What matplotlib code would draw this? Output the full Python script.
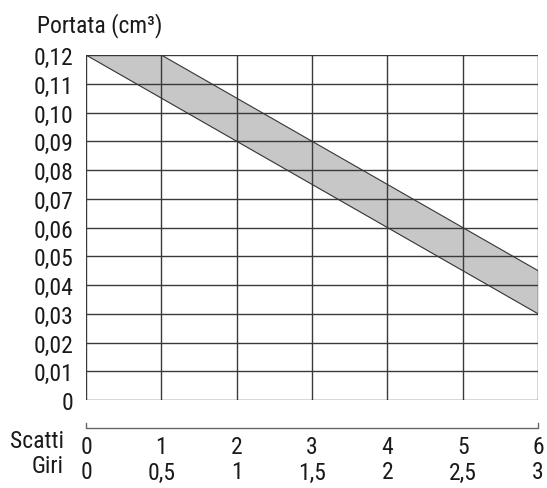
import matplotlib
matplotlib.use("Agg")
import matplotlib.pyplot as plt
from matplotlib.transforms import blended_transform_factory

plt.rcParams['font.family'] = ['Roboto Condensed', 'Liberation Sans', 'DejaVu Sans']

# Data
scatti = [0, 1, 2, 3, 4, 5, 6]
giri_labels = ["0", "0,5", "1", "1,5", "2", "2,5", "3"]
portata_max = [0.12, 0.12, 0.105, 0.09, 0.075, 0.06, 0.045]
portata_min = [0.12, 0.105, 0.09, 0.075, 0.06, 0.045, 0.03]
y_ticks = [0.0, 0.01, 0.02, 0.03, 0.04, 0.05, 0.06, 0.07, 0.08, 0.09, 0.10, 0.11, 0.12]
y_labels = ["0"] + [f"{v:.2f}".replace(".", ",") for v in y_ticks[1:]]

FS = 17
TXT = "#1a1a1a"

W, H = 547, 489
fig = plt.figure(figsize=(W / 100, H / 100), dpi=100)
ax = fig.add_axes([86 / W, 1 - 401 / H, (538 - 86) / W, (401 - 56) / H])

ax.fill_between(scatti, portata_min, portata_max, color="#c6c7c6", lw=0, zorder=1)
ax.plot(scatti, portata_max, color="#333333", lw=0.8, zorder=3)
ax.plot(scatti, portata_min, color="#333333", lw=0.8, zorder=3)

ax.set_xlim(0, 6)
ax.set_ylim(0, 0.12)
for x in scatti:
    ax.axvline(x, color="#3a3a3a", lw=1.0, zorder=2)
for y in y_ticks:
    ax.axhline(y, color="#3a3a3a", lw=1.0, zorder=2)
for s in ax.spines.values():
    s.set_visible(False)

ax.set_yticks(y_ticks)
ax.set_yticklabels(y_labels, fontsize=FS, color=TXT)
ax.set_xticks([])
ax.tick_params(axis="y", length=0, pad=9)

fig.text(37 / W, 1 - 26 / H, "Portata (cm³)", fontsize=17, color=TXT,
         ha="left", va="center")

# Bracket axis below the grid
tr = blended_transform_factory(ax.transData, fig.transFigure)
yb = 1 - 429 / H
ax.plot([0, 0, 6, 6], [yb + 5 / H, yb, yb, yb + 5 / H], transform=tr,
        color="#666666", lw=1.0, clip_on=False)

y_sc = 1 - 447 / H
y_gi = 1 - 473 / H
for x, g in zip(scatti, giri_labels):
    ax.text(x, y_sc, str(x), transform=tr, ha="center", va="center",
            fontsize=FS, color=TXT)
    ax.text(x, y_gi, g, transform=tr, ha="center", va="center",
            fontsize=FS, color=TXT)
fig.text(64 / W, 1 - 442 / H, "Scatti", ha="right", va="center", fontsize=FS, color=TXT)
fig.text(64 / W, 1 - 467 / H, "Giri", ha="right", va="center", fontsize=FS, color=TXT)

fig.savefig("out.png", dpi=100, facecolor="white")
